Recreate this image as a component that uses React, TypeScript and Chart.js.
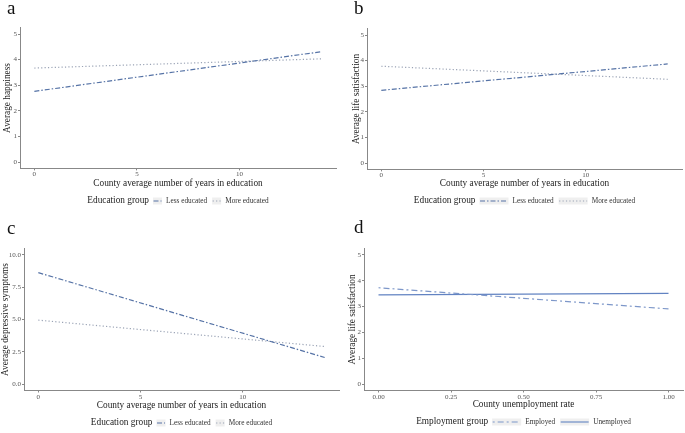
import React, { useEffect, useRef } from 'react';
import { Chart, registerables } from 'chart.js';
Chart.register(...registerables);

// ---- data ----
const educationYears = [0, 14];
const happinessLess = [2.76, 4.31];
const happinessMore = [3.67, 4.03];
const lifeSatLess = [2.84, 3.87];
const lifeSatMore = [3.78, 3.27];
const depressLess = [8.63, 2.06];
const depressMore = [4.95, 2.91];
const unemploymentRate = [0, 1];
const lifeSatEmployed = [3.73, 2.91];
const lifeSatUnemployed = [3.45, 3.51];

const ticksZeroToFive = [0, 1, 2, 3, 4, 5];
const ticksDepressive = [0, 2.5, 5, 7.5, 10];
const ticksYears = [0, 5, 10];
const ticksRate = [0, 0.25, 0.5, 0.75, 1];

const SERIF = '"Liberation Serif", "Times New Roman", serif';
const C_LESS = '#5673a6';
const C_MORE = '#9aa3b5';
const C_EMP = '#7d97c9';
const C_UNEMP = '#6283c2';
const D_LESS = [5, 2, 1.5, 2];
const D_MORE = [1.2, 2.2];
const D_EMP = [2, 3, 6, 3];
const D_UNEMP: number[] = [];

type Series = { label: string; xs: number[]; ys: number[]; color: string; dash: number[] };
type PanelCfg = {
  letter: string; left: number; top: number; W: number; H: number;
  area: { l: number; r: number; t: number; b: number };
  xMin: number; xMax: number; yMin: number; yMax: number;
  xTicks: number[]; yTicks: number[]; xDigits: number; yDigits: number;
  xTitle: string; yTitle: string; legendTitle: string;
  letterPos: [number, number]; xTitleY: number; yTitleX: number; legendY: number; keyW: number;
  series: Series[];
};

const panels: PanelCfg[] = [
  {
    letter: 'a', left: 0, top: 0, W: 342, H: 216,
    area: { l: 20, r: 336, t: 27.6, b: 168.4 },
    xMin: -0.7, xMax: 14.7, yMin: -0.25, yMax: 5.25,
    xTicks: ticksYears, yTicks: ticksZeroToFive, xDigits: 0, yDigits: 0,
    xTitle: 'County average number of years in education', yTitle: 'Average happiness',
    legendTitle: 'Education group', letterPos: [7, 14], xTitleY: 183.5, yTitleX: 7.5, legendY: 201, keyW: 9,
    series: [
      { label: 'Less educated', xs: educationYears, ys: happinessLess, color: C_LESS, dash: D_LESS },
      { label: 'More educated', xs: educationYears, ys: happinessMore, color: C_MORE, dash: D_MORE },
    ],
  },
  {
    letter: 'b', left: 342, top: 0, W: 343, H: 216,
    area: { l: 25, r: 340, t: 28.6, b: 169.4 },
    xMin: -0.7, xMax: 14.7, yMin: -0.25, yMax: 5.25,
    xTicks: ticksYears, yTicks: ticksZeroToFive, xDigits: 0, yDigits: 0,
    xTitle: 'County average number of years in education', yTitle: 'Average life satisfaction',
    legendTitle: 'Education group', letterPos: [12, 14], xTitleY: 184, yTitleX: 15, legendY: 201, keyW: 29,
    series: [
      { label: 'Less educated', xs: educationYears, ys: lifeSatLess, color: C_LESS, dash: D_LESS },
      { label: 'More educated', xs: educationYears, ys: lifeSatMore, color: C_MORE, dash: D_MORE },
    ],
  },
  {
    letter: 'c', left: 0, top: 216, W: 342, H: 217,
    area: { l: 24, r: 339, t: 32.5, b: 174.5 },
    xMin: -0.7, xMax: 14.7, yMin: -0.5, yMax: 10.5,
    xTicks: ticksYears, yTicks: ticksDepressive, xDigits: 0, yDigits: 1,
    xTitle: 'County average number of years in education', yTitle: 'Average depressive symptoms',
    legendTitle: 'Education group', letterPos: [7, 18], xTitleY: 189.5, yTitleX: 5.6, legendY: 207, keyW: 9,
    series: [
      { label: 'Less educated', xs: educationYears, ys: depressLess, color: C_LESS, dash: D_LESS },
      { label: 'More educated', xs: educationYears, ys: depressMore, color: C_MORE, dash: D_MORE },
    ],
  },
  {
    letter: 'd', left: 342, top: 216, W: 343, H: 217,
    area: { l: 22, r: 341, t: 32.5, b: 174.5 },
    xMin: -0.05, xMax: 1.05, yMin: -0.25, yMax: 5.25,
    xTicks: ticksRate, yTicks: ticksZeroToFive, xDigits: 2, yDigits: 0,
    xTitle: 'County unemployment rate', yTitle: 'Average life satisfaction',
    legendTitle: 'Employment group', letterPos: [12, 17], xTitleY: 188.5, yTitleX: 11, legendY: 206, keyW: 29,
    series: [
      { label: 'Employed', xs: unemploymentRate, ys: lifeSatEmployed, color: C_EMP, dash: D_EMP },
      { label: 'Unemployed', xs: unemploymentRate, ys: lifeSatUnemployed, color: C_UNEMP, dash: D_UNEMP },
    ],
  },
];

const TITLE_SIZE = 9.3;
const TITLE_LH = TITLE_SIZE * 1.2;

function makeChart(canvas: HTMLCanvasElement, p: PanelCfg) {
  const overlay = {
    id: 'overlay',
    afterDraw(chart: any) {
      const ctx = chart.ctx as CanvasRenderingContext2D;
      ctx.save();
      // panel letter
      ctx.fillStyle = '#111';
      ctx.font = `19px ${SERIF}`;
      ctx.textBaseline = 'alphabetic';
      ctx.textAlign = 'left';
      ctx.fillText(p.letter, p.letterPos[0], p.letterPos[1]);
      // legend
      const titleFont = `${TITLE_SIZE}px ${SERIF}`;
      const labFont = `7.3px ${SERIF}`;
      ctx.font = titleFont;
      const tW = ctx.measureText(p.legendTitle).width;
      ctx.font = labFont;
      const lW = p.series.map((s) => ctx.measureText(s.label).width);
      const gTK = 4, gKL = 4, gLK = 5;
      let total = tW;
      p.series.forEach((s, i) => { total += gTK + p.keyW + gKL + lW[i]; if (i > 0) total += gLK - gTK; });
      const ca = chart.chartArea;
      let x = (ca.left + ca.right) / 2 - total / 2;
      const y = p.legendY;
      ctx.textBaseline = 'middle';
      ctx.fillStyle = '#222';
      ctx.font = titleFont;
      ctx.fillText(p.legendTitle, x, y);
      x += tW;
      p.series.forEach((s, i) => {
        x += i === 0 ? gTK : gLK;
        ctx.fillStyle = '#efefef';
        ctx.fillRect(x, y - 3.5, p.keyW, 7);
        ctx.strokeStyle = s.color;
        ctx.lineWidth = 1.1;
        ctx.setLineDash(s.dash);
        ctx.beginPath();
        ctx.moveTo(x + 0.5, y);
        ctx.lineTo(x + p.keyW - 0.5, y);
        ctx.stroke();
        ctx.setLineDash([]);
        x += p.keyW + gKL;
        ctx.fillStyle = '#333';
        ctx.font = labFont;
        ctx.fillText(s.label, x, y + 0.5);
        x += lW[i];
      });
      ctx.restore();
    },
  };

  const tickFont = { family: SERIF, size: 7 };
  const titleFont = { family: SERIF, size: TITLE_SIZE };

  return new Chart(canvas, {
    type: 'line',
    data: {
      datasets: p.series.map((s) => ({
        label: s.label,
        data: s.xs.map((xv, i) => ({ x: xv, y: s.ys[i] })),
        borderColor: s.color,
        borderDash: s.dash,
        borderWidth: 1.2,
        pointRadius: 0,
        fill: false,
        tension: 0,
      })),
    },
    options: {
      responsive: false,
      animation: false,
      devicePixelRatio: 1,
      layout: { padding: { left: 0, top: p.area.t, right: p.W - p.area.r, bottom: 0 } },
      plugins: { legend: { display: false }, tooltip: { enabled: false }, title: { display: false } },
      scales: {
        x: {
          type: 'linear',
          min: p.xMin, max: p.xMax,
          afterBuildTicks: (s: any) => { s.ticks = p.xTicks.map((v) => ({ value: v })); },
          afterFit: (s: any) => { s.height = p.H - p.area.b; },
          ticks: {
            callback: (v: any) => Number(v).toFixed(p.xDigits),
            color: '#555', font: tickFont, padding: 0, maxRotation: 0, autoSkip: false,
          },
          grid: { display: true, drawOnChartArea: false, drawTicks: true, tickLength: 2, color: '#888' },
          border: { display: true, color: '#888', width: 1 },
          title: {
            display: true, text: p.xTitle, color: '#222', font: titleFont,
            padding: { top: 0, bottom: p.H - p.xTitleY - TITLE_LH / 2 },
          },
        },
        y: {
          type: 'linear',
          min: p.yMin, max: p.yMax,
          afterBuildTicks: (s: any) => { s.ticks = p.yTicks.map((v) => ({ value: v })); },
          afterFit: (s: any) => { s.width = p.area.l; },
          ticks: {
            callback: (v: any) => Number(v).toFixed(p.yDigits),
            color: '#555', font: tickFont, padding: 1, autoSkip: false,
          },
          grid: { display: true, drawOnChartArea: false, drawTicks: true, tickLength: 2, color: '#888' },
          border: { display: true, color: '#888', width: 1 },
          title: {
            display: true, text: p.yTitle, color: '#222', font: titleFont,
            padding: { top: Math.max(0, p.yTitleX - TITLE_LH / 2), bottom: 0 },
          },
        },
      },
    } as any,
    plugins: [overlay],
  });
}

function Panel({ p }: { p: PanelCfg }) {
  const ref = useRef<HTMLCanvasElement | null>(null);
  useEffect(() => {
    if (!ref.current) return;
    const chart = makeChart(ref.current, p);
    return () => chart.destroy();
  }, [p]);
  return (
    <canvas
      ref={ref}
      width={p.W}
      height={p.H}
      style={{ position: 'absolute', left: p.left, top: p.top, width: p.W, height: p.H }}
    />
  );
}

export default function App() {
  return (
    <div style={{ position: 'fixed', left: 0, top: 0, width: 685, height: 433, background: '#fff' }}>
      {panels.map((p) => (
        <Panel key={p.letter} p={p} />
      ))}
    </div>
  );
}
